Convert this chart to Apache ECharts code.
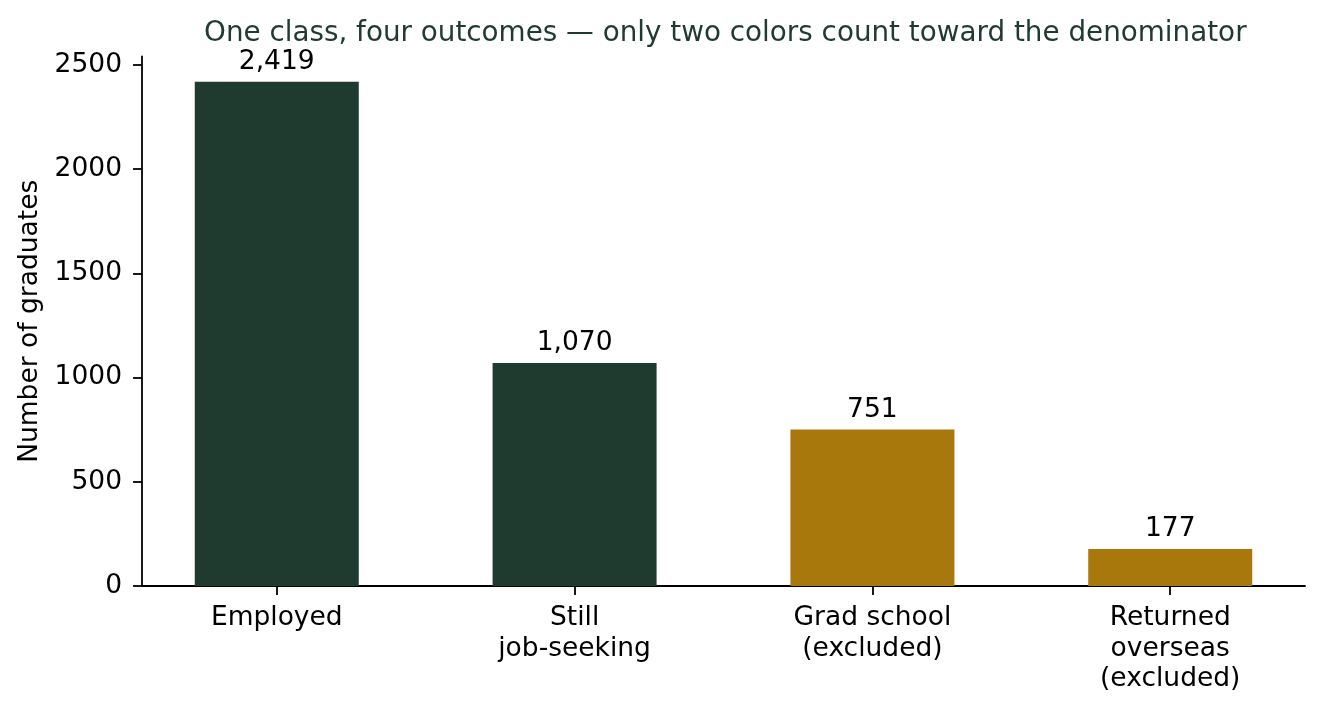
<!DOCTYPE html>
<html>
<head>
<meta charset="utf-8">
<script src="https://cdn.jsdelivr.net/npm/echarts@6/dist/echarts.min.js"></script>
<style>
  html, body { margin: 0; padding: 0; background: #fff; }
  #chart { width: 1324px; height: 710px; }
</style>
</head>
<body>
<div id="chart"></div>
<script>
const categories = ['Employed', 'Still\njob-seeking', 'Grad school\n(excluded)', 'Returned\noverseas\n(excluded)'];
const graduates = [2419, 1070, 751, 177];
const counted = [true, true, false, false];
const yTicks = [0, 500, 1000, 1500, 2000, 2500];

const GREEN = '#1f3a2f';
const GOLD = '#a8780c';
const FONT = 'DejaVu Sans';
const FS = 26.5;

const chartDom = document.getElementById('chart');
const myChart = echarts.init(chartDom);

const positions = categories.map((c, i) => i);
const option = {
    animation: false,
    title: {
        text: 'One class, four outcomes — only two colors count toward the denominator',
        left: 199,
        top: 15,
        textStyle: { fontFamily: FONT, fontSize: 27.8, fontWeight: 'normal', color: GREEN }
    },
    grid: { left: 142, right: 19, top: 56.5, bottom: 124 },
    xAxis: {
        type: 'value',
        min: -0.4525,
        max: 3.4525,
        splitLine: { show: false },
        axisLine: { show: true, onZero: false, lineStyle: { color: '#000', width: 1.8 } },
        axisTick: { show: true, customValues: positions, length: 9, lineStyle: { color: '#000', width: 1.8 } },
        axisLabel: {
            customValues: positions,
            formatter: v => categories[Math.round(v)],
            fontFamily: FONT, fontSize: FS, color: '#000', lineHeight: 30.5, margin: 17
        }
    },
    yAxis: {
        type: 'value',
        min: 0,
        max: 2540,
        name: 'Number of graduates',
        nameLocation: 'middle',
        nameGap: 98,
        nameTextStyle: { fontFamily: FONT, fontSize: FS, color: '#000' },
        splitLine: { show: false },
        axisLine: { show: true, onZero: false, lineStyle: { color: '#000', width: 1.8 } },
        axisTick: { show: true, customValues: yTicks, length: 9, lineStyle: { color: '#000', width: 1.8 } },
        axisLabel: {
            customValues: yTicks,
            formatter: v => String(v),
            fontFamily: FONT, fontSize: FS, color: '#000', margin: 20,
            padding: [4, 0, 0, 0]
        }
    },
    series: [{
        type: 'bar',
        barWidth: 164,
        data: graduates.map((v, i) => ({
            value: [i, v],
            itemStyle: { color: counted[i] ? GREEN : GOLD }
        })),
        label: {
            show: true,
            position: 'top',
            distance: 6,
            fontFamily: FONT,
            fontSize: FS,
            color: '#000',
            formatter: p => p.value[1].toLocaleString('en-US')
        }
    }]
};
option && myChart.setOption(option);
</script>
</body>
</html>
